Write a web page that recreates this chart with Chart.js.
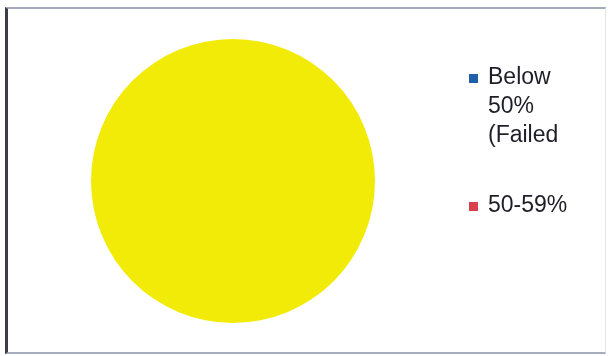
<!DOCTYPE html>
<html>
<head>
<meta charset="utf-8">
<script src="https://cdn.jsdelivr.net/npm/chart.js@4"></script>
<style>
  body { margin: 0; background: #fff; }
  #wrap { position: relative; width: 608px; height: 356px; overflow: hidden; }
  #frame {
    position: absolute; left: 5px; top: 7px; width: 597px; height: 343px;
    border-top: 2px solid #a3aaba;
    border-left: 3px solid #3b3e4a;
    border-bottom: 2px solid #a6adbc;
    border-right: 1px solid #e4e4e4;
  }
  canvas { position: absolute; left: 0; top: 0; }
</style>
</head>
<body>
<div id="wrap">
  <div id="frame"></div>
  <canvas id="canva1" width="608" height="356"></canvas>
</div>
<script>
const Grades = ['Below 50% (Failed', '50-59%', '60% and above'];
const Share = [0, 0, 100];
const GradeColors = ['#2060a8', '#d8404c', '#f2eb08'];
// only the first two entries show in the reference legend
const legendCount = 2;

var ctx1 = document.getElementById('canva1').getContext('2d');

// legend drawn by hand so the long label wraps like the picture
const wrapLegend = {
    id: 'wrapLegend',
    afterDraw(chart) {
        const c = chart.ctx;
        const labels = chart.data.labels;
        const colors = chart.data.datasets[0].backgroundColor;
        c.save();
        c.font = '23px "Liberation Sans", Arial, sans-serif';
        c.textBaseline = 'middle';
        let y = 78;
        for (let i = 0; i < legendCount; i++) {
            // wrap words to max width
            const words = labels[i].split(' ');
            const lines = [];
            let line = '';
            words.forEach(w => {
                const test = line ? line + ' ' + w : w;
                if (line && c.measureText(test).width > 92) {
                    lines.push(line);
                    line = w;
                } else {
                    line = test;
                }
            });
            lines.push(line);
            c.fillStyle = colors[i];
            c.fillRect(469, y - 4, 9, 9);
            c.fillStyle = '#1e1e28';
            lines.forEach((l, k) => c.fillText(l, 488, y + k * 29));
            y += (lines.length - 1) * 29 + 70;
        }
        c.restore();
    }
};

const gradeChart = new Chart(ctx1, {
    type: 'pie',
    data: {
        labels: Grades,
        datasets: [{
            data: Share,
            backgroundColor: GradeColors,
            borderWidth: 0
        }]
    },
    options: {
        responsive: false,
        animation: false,
        layout: {
            padding: { left: 91, right: 233, top: 39, bottom: 33 }
        },
        plugins: {
            legend: { display: false },
            tooltip: { enabled: false }
        }
    },
    plugins: [wrapLegend]
});
</script>
</body>
</html>
